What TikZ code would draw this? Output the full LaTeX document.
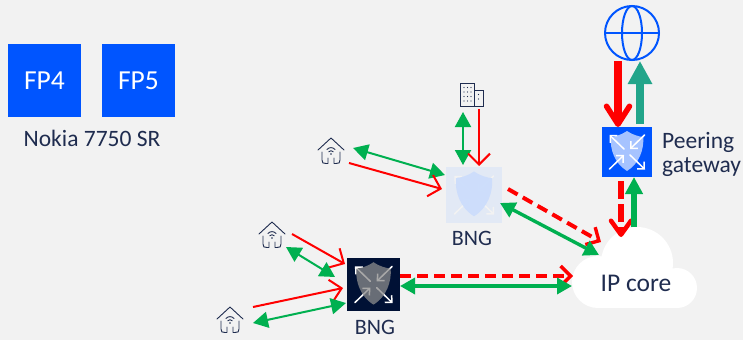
\documentclass[tikz,border=0pt]{standalone}
\usepackage{fontspec}
\setmainfont{Carlito}
\usetikzlibrary{arrows.meta,calc}
\definecolor{bgc}{HTML}{F2F2F2}
\definecolor{nblue}{HTML}{0055FF}
\definecolor{ink}{HTML}{1F2C4F}
\definecolor{gline}{HTML}{00B050}
\definecolor{teal}{HTML}{22A58A}
\definecolor{darkbox}{HTML}{001135}
\definecolor{lightbox}{HTML}{E2E9F5}
\definecolor{lshield}{HTML}{CCDDFC}
\tikzset{
  lbl/.style={text=ink,font=\fontsize{23.5}{27}\selectfont,inner sep=0pt},
  bnglbl/.style={text=ink,font=\fontsize{22}{25}\selectfont,inner sep=0pt},
  corelbl/.style={text=ink,font=\fontsize{25.5}{28}\selectfont,inner sep=0pt},
  fpbox/.style={fill=nblue,text=white,minimum size=73pt,inner sep=0pt,font=\fontsize{27.5}{30}\selectfont},
  redthin/.style={draw=red,line width=2pt,-{Straight Barb[length=11pt,width=22pt,line width=2pt]}},
  redfat/.style={draw=red,line width=8pt,-{Straight Barb[length=18pt,width=23pt,line width=5.5pt,round]}},
  reddash/.style={draw=red,line width=4pt,dash pattern=on 11pt off 6pt,-{Straight Barb[length=10pt,width=20pt,line width=3.4pt]}},
  greenthin/.style={draw=gline,line width=2pt,{Triangle[length=15pt,width=16pt]}-{Triangle[length=15pt,width=16pt]}},
  greenmid/.style={draw=gline,line width=3.4pt,{Triangle[length=15pt,width=16pt]}-{Triangle[length=15pt,width=16pt]}},
  pics/shieldicon/.style n args={3}{code={
    \begin{scope}[draw=#1,line width=1.5pt,line cap=round]
      \draw[{Straight Barb[length=5pt,width=10pt,line width=1.5pt]}-] (-.70,-.68) -- (-.12,-.12);
      \draw[-{Straight Barb[length=5pt,width=10pt,line width=1.5pt]}] (.70,-.68) -- (.12,-.12);
      \draw[-{Straight Barb[length=5pt,width=10pt,line width=1.5pt]}] (-.70,.68) -- (-.12,.12);
      \draw[-{Straight Barb[length=5pt,width=10pt,line width=1.5pt]}] (.12,.12) -- (.72,.70);
    \end{scope}
    \fill[#2,opacity=#3] (0,-.84) .. controls (.2,-.7) and (.45,-.62) .. (.65,-.6)
      .. controls (.68,-.1) and (.5,.45) .. (0,.76)
      .. controls (-.5,.45) and (-.68,-.1) .. (-.65,-.6)
      .. controls (-.45,-.62) and (-.2,-.7) .. (0,-.84) -- cycle;
  }},
  pics/homeicon/.style={code={
    \begin{scope}[draw=ink,line width=.9pt,line cap=round,line join=round]
      \draw (-13,-1) -- (0,-13) -- (13,-1);
      \draw (-9,1) -- (-9,9) .. controls (-9,12) and (-8,12.5) .. (-5,12.5) -- (-3,12.5) -- (-3,7);
      \draw (9,1) -- (9,9) .. controls (9,12) and (8,12.5) .. (5,12.5) -- (3,12.5) -- (3,7);
      \draw (-4,-1.5) .. controls (-2,-4) and (2,-4) .. (4,-1.5);
      \draw (-2.2,.8) .. controls (-1,-.6) and (1,-.6) .. (2.2,.8);
      \fill[ink] (0,3) circle (.9pt);
    \end{scope}
  }}
}
\begin{document}
\begin{tikzpicture}[x=1pt,y=-1pt]
\useasboundingbox[fill=bgc] (0,0) rectangle (743,340);
% cloud
\fill[white] (637,263) circle (36pt) (598,282) circle (26pt) (677,288) circle (20pt);
\fill[white] (598,270) rectangle (677,308);
\node[corelbl] (ipcore) at (636,283) {IP core};
% FP boxes
\node[fpbox] (fp4) at (44.5,80.5) {FP4};
\node[fpbox] (fp5) at (138.5,80.5) {FP5};
\node[lbl] (nokia) at (92,138) {Nokia 7750 SR};
% globe
\node[circle,draw=nblue,line width=2pt,minimum size=54pt,inner sep=0pt] (globe) at (632,33) {};
\draw[draw=nblue,line width=2pt] (globe.west) -- (globe.east);
\draw[draw=nblue,line width=2pt] (632,33) ellipse (10pt and 27pt);
% gateway
\node[fill=nblue,minimum size=50pt,inner sep=0pt] (gw) at (627,152) {};
\pic[scale=25] at (gw) {shieldicon={white}{white}{.65}};
\node[lbl,anchor=base west] (peer) at (662,148) {Peering};
\node[lbl,anchor=base west] (gwt) at (662,172) {gateway};
% light BNG
\node[fill=lightbox,minimum size=56pt,inner sep=0pt] (bngl) at (474,195) {};
\pic[scale=28] at (bngl) {shieldicon={bgc}{lshield}{.95}};
\node[bnglbl] (bngltxt) at (472,238) {BNG};
% dark BNG
\node[fill=darkbox,minimum size=53pt,inner sep=0pt] (bngd) at (373.5,284.5) {};
\pic[scale=26.5] at (bngd) {shieldicon={white}{gray!90!white}{.75}};
\node[bnglbl] (bngdtxt) at (375,327.5) {BNG};
% homes
\pic at (331,151) {homeicon};
\pic at (272,235) {homeicon};
\pic at (230,320) {homeicon};
\node[inner sep=0pt,minimum size=24pt] (home1) at (331,151) {};
\node[inner sep=0pt,minimum size=24pt] (home2) at (272,235) {};
\node[inner sep=0pt,minimum size=24pt] (home3) at (230,320) {};
% building
\draw[draw=ink,line width=1pt] (460,83) rectangle (474,106);
\draw[draw=ink,line width=1pt] (474,90) rectangle (483,106);
\foreach \x in {464,467.5,471}{\foreach \y in {87.5,92,96.5,101}{\fill[ink] (\x,\y) circle (.7pt);}}
\foreach \y in {94.5,99}{\fill[ink] (478.5,\y) circle (.7pt);}
\node[inner sep=0pt,minimum width=23pt,minimum height=23pt] (bld) at (471.5,94.5) {};
% connector ends
\coordinate (a1) at (618,61); \coordinate (a2) at (618,127);
\coordinate (b1) at (640,124); \coordinate (b2) at (640,61);
\coordinate (c1) at (463,112); \coordinate (c2) at (463,165);
\coordinate (d1) at (479,109); \coordinate (d2) at (479,166);
\coordinate (e1) at (353,148); \coordinate (e2) at (445,175);
\coordinate (f1) at (349,163); \coordinate (f2) at (442,189);
\coordinate (g1) at (508,189); \coordinate (g2) at (601,242);
\coordinate (h1) at (500,203); \coordinate (h2) at (599,255);
\coordinate (i1) at (400,276); \coordinate (i2) at (573,276);
\coordinate (j1) at (400,286); \coordinate (j2) at (572,286);
\coordinate (k1) at (621,181); \coordinate (k2) at (621,237);
\coordinate (l1) at (634,227); \coordinate (l2) at (634,177);
\coordinate (m1) at (292,234); \coordinate (m2) at (345,264);
\coordinate (n1) at (286,247); \coordinate (n2) at (335,277);
\coordinate (o1) at (253,307); \coordinate (o2) at (343,288);
\coordinate (p1) at (253,323); \coordinate (p2) at (346,303);
% connectors
\draw[redfat] (a1) -- (a2);
\draw[draw=teal,line width=8pt,-{Triangle[length=23pt,width=23pt]}] (b1) -- (b2);
\draw[greenthin] (c1) -- (c2);
\draw[redthin] (d1) -- (d2);
\draw[greenthin] (e1) -- (e2);
\draw[redthin] (f1) -- (f2);
\draw[reddash] (g1) -- (g2);
\draw[greenmid] (h1) -- (h2);
\draw[reddash] (i1) -- (i2);
\draw[greenmid] (j1) -- (j2);
\draw[draw=red,line width=6pt,dash pattern=on 18pt off 5pt,-{Straight Barb[length=14pt,width=20pt,line width=4.5pt,round]}] (k1) -- (k2);
\draw[draw=gline,line width=6pt,-{Triangle[length=17pt,width=17pt]}] (l1) -- (l2);
\draw[redthin] (m1) -- (m2);
\draw[greenthin] (n1) -- (n2);
\draw[redthin] (o1) -- (o2);
\draw[greenthin] (p1) -- (p2);
\end{tikzpicture}
\end{document}
